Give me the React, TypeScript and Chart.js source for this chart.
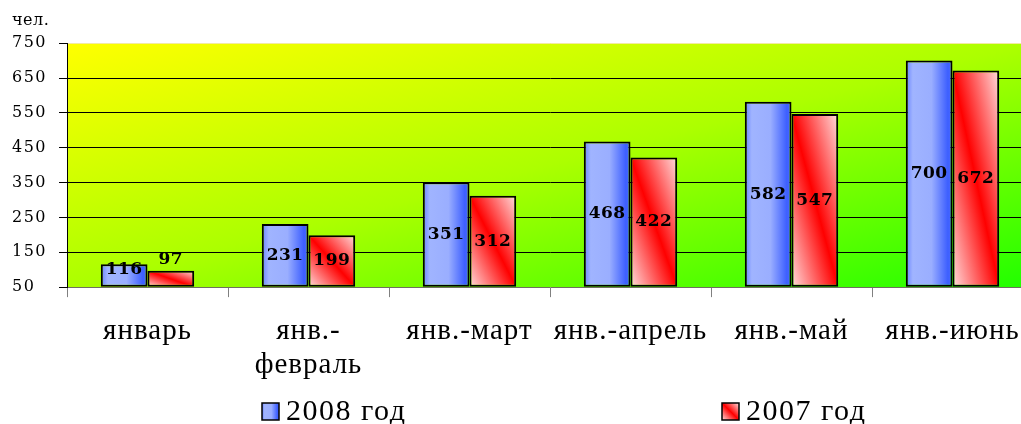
import React, { useEffect, useRef } from 'react';
import { Chart, registerables } from 'chart.js';

Chart.register(...registerables);

// ---- data ----
const categories: (string | string[])[] = [
  'январь',
  ['янв.-', 'февраль'],
  'янв.-март',
  'янв.-апрель',
  'янв.-май',
  'янв.-июнь',
];
const values2008 = [116, 231, 351, 468, 582, 700];
const values2007 = [97, 199, 312, 422, 547, 672];
const seriesNames = ['2008 год', '2007 год'];
const yMin = 50;
const yMax = 750;
const yStep = 100;
const unitLabel = 'чел.';

const CAT_PCT = 0.58;

function barGeom(c: any) {
  const chart = c.chart;
  const xs = chart.scales?.x;
  const ys = chart.scales?.y;
  if (!xs || !ys || !chart.chartArea || c.type !== 'data') return null;
  const i = c.dataIndex;
  const ds = c.datasetIndex;
  const v = chart.data.datasets[ds].data[i];
  const center = xs.getPixelForValue(i);
  const cw = xs.width / chart.data.labels.length;
  const half = (cw * CAT_PCT) / 2;
  const x0 = ds === 0 ? center - half : center;
  const x1 = x0 + half;
  const y0 = ys.getPixelForValue(v);
  const y1 = ys.getPixelForValue(yMin);
  return { x0, x1, y0, y1 };
}

function makeBlue(ctx: CanvasRenderingContext2D, x0: number, x1: number) {
  const g = ctx.createLinearGradient(x0, 0, x1, 0);
  g.addColorStop(0, '#6a84ff');
  g.addColorStop(0.15, '#a0b4ff');
  g.addColorStop(0.55, '#9aaeff');
  g.addColorStop(0.9, '#3d5fff');
  g.addColorStop(1, '#4c6cff');
  return g;
}

function makeRed(ctx: CanvasRenderingContext2D, x0: number, x1: number, y0: number, y1: number) {
  const w = x1 - x0;
  const h = y1 - y0;
  const cx = (x0 + x1) / 2;
  const cy = (y0 + y1) / 2;
  const n = Math.hypot(w, h) || 1;
  const ux = h / n;
  const uy = -w / n;
  const e = Math.abs((w / 2) * ux) + Math.abs((h / 2) * uy) || 1;
  const g = ctx.createLinearGradient(cx - e * ux, cy - e * uy, cx + e * ux, cy + e * uy);
  g.addColorStop(0, '#ffdede');
  g.addColorStop(0.44, '#ff1a1a');
  g.addColorStop(0.5, '#ff0000');
  g.addColorStop(0.56, '#ff1a1a');
  g.addColorStop(1, '#ffdede');
  return g;
}

function blueFill(c: any) {
  const g = barGeom(c);
  if (!g) return '#9aaeff';
  return makeBlue(c.chart.ctx, g.x0, g.x1);
}

function redFill(c: any) {
  const g = barGeom(c);
  if (!g) return '#ff6060';
  return makeRed(c.chart.ctx, g.x0, g.x1, g.y0, g.y1);
}

function patchScaleSpacing(scale: any, spacing: string) {
  if (!scale || scale.__spacingPatched) return;
  const orig = scale.drawLabels;
  scale.drawLabels = function (area: any) {
    const ctx: any = this.ctx;
    ctx.save();
    ctx.letterSpacing = spacing;
    orig.call(this, area);
    ctx.restore();
  };
  scale.__spacingPatched = true;
}

const bgPlugin = {
  id: 'plotBg',
  beforeDraw(chart: any) {
    const { ctx, chartArea: a } = chart;
    if (!a) return;
    (ctx as any).letterSpacing = '0.5px';
    patchScaleSpacing(chart.scales.x, '1px');
    patchScaleSpacing(chart.scales.y, '1.5px');
    ctx.save();
    ctx.translate(a.left, a.top);
    ctx.scale(a.right - a.left, a.bottom - a.top);
    const g = ctx.createLinearGradient(0, 0, 1, 1);
    g.addColorStop(0, '#ffff00');
    g.addColorStop(0.5, '#acff00');
    g.addColorStop(1, '#20ff00');
    ctx.fillStyle = g;
    ctx.fillRect(0, 0, 1, 1);
    ctx.restore();
  },
};

const dataLabelPlugin = {
  id: 'barValues',
  afterDatasetsDraw(chart: any) {
    const ctx: any = chart.ctx;
    ctx.save();
    ctx.letterSpacing = '0.5px';
    ctx.font = 'bold 17px "DejaVu Serif"';
    ctx.fillStyle = '#000';
    ctx.textAlign = 'center';
    ctx.textBaseline = 'middle';
    chart.data.datasets.forEach((ds: any, di: number) => {
      const meta = chart.getDatasetMeta(di);
      meta.data.forEach((bar: any, i: number) => {
        const v = ds.data[i];
        const h = bar.base - bar.y;
        let y = (bar.y + bar.base) / 2;
        if (h < 30) y = di === 0 ? bar.y + 5 : bar.y - 11;
        ctx.fillText(String(v), bar.x, y);
      });
    });
    ctx.restore();
  },
};

const LEGEND_X = [262, 722];
const LEGEND_BOX_TOP = 403;
const LEGEND_BOX = 17;

const legendPlugin = {
  id: 'customLegend',
  afterDraw(chart: any) {
    const ctx: any = chart.ctx;
    ctx.save();
    seriesNames.forEach((name, i) => {
      const x = LEGEND_X[i];
      const y = LEGEND_BOX_TOP;
      ctx.fillStyle =
        i === 0
          ? makeBlue(ctx, x, x + LEGEND_BOX)
          : makeRed(ctx, x, x + LEGEND_BOX, y, y + LEGEND_BOX);
      ctx.fillRect(x, y, LEGEND_BOX, LEGEND_BOX);
      ctx.strokeStyle = '#000';
      ctx.lineWidth = 1.5;
      ctx.strokeRect(x, y, LEGEND_BOX, LEGEND_BOX);
      ctx.fillStyle = '#000';
      ctx.letterSpacing = '1.5px';
      ctx.font = '30px "Liberation Serif"';
      ctx.textAlign = 'left';
      ctx.textBaseline = 'alphabetic';
      ctx.fillText(name, x + LEGEND_BOX + 7, y + LEGEND_BOX);
    });
    ctx.restore();
  },
};

export default function App() {
  const canvasRef = useRef<HTMLCanvasElement | null>(null);

  useEffect(() => {
    if (!canvasRef.current) return;
    const common = {
      borderColor: '#000',
      borderWidth: 2,
      borderSkipped: false,
      categoryPercentage: CAT_PCT,
      barPercentage: 1,
      base: yMin,
    };
    const chart = new Chart(canvasRef.current, {
      type: 'bar',
      data: {
        labels: categories as any,
        datasets: [
          { label: seriesNames[0], data: values2008, backgroundColor: blueFill as any, ...common },
          { label: seriesNames[1], data: values2007, backgroundColor: redFill as any, ...common },
        ],
      },
      options: {
        animation: false,
        responsive: true,
        maintainAspectRatio: false,
        layout: { padding: { left: 12, right: 0, top: 0, bottom: 25 } },
        plugins: {
          legend: { display: false },
          tooltip: { enabled: false },
          title: {
            display: true,
            text: unitLabel,
            align: 'start',
            color: '#000',
            font: { family: 'DejaVu Serif', size: 16, weight: 'normal', lineHeight: 1.2 },
            padding: { top: 11, bottom: 13 },
          },
        },
        scales: {
          x: {
            ticks: {
              color: '#000',
              font: { family: 'Liberation Serif', size: 29, lineHeight: 1.17 },
              padding: 17,
              maxRotation: 0,
              minRotation: 0,
              autoSkip: false,
            },
            grid: {
              drawOnChartArea: false,
              color: '#808080',
              tickLength: 10,
              offset: true,
            },
            border: { color: '#6f6f60', width: 1 },
          },
          y: {
            min: yMin,
            max: yMax,
            ticks: {
              stepSize: yStep,
              crossAlign: 'far',
              color: '#000',
              font: { family: 'DejaVu Serif', size: 16 },
            },
            grid: {
              color: (c: any) => {
                const v = c.tick?.value;
                if (v === yMax) return '#f3eaa0';
                if (v === yMin) return 'rgba(0,0,0,0)';
                return '#000';
              },
              tickColor: '#000',
              tickLength: 8,
              lineWidth: 1,
            },
            border: { color: '#000', width: 1 },
            afterFit: (s: any) => {
              s.width = 55;
            },
          },
        },
      } as any,
      plugins: [bgPlugin, dataLabelPlugin, legendPlugin],
    });
    return () => chart.destroy();
  }, []);

  return (
    <div
      style={{
        position: 'fixed',
        left: 0,
        top: 0,
        width: 1021,
        height: 424,
        overflow: 'hidden',
        background: '#fff',
      }}
    >
      <div style={{ position: 'relative', width: 1033, height: 424 }}>
        <canvas ref={canvasRef} />
      </div>
    </div>
  );
}
